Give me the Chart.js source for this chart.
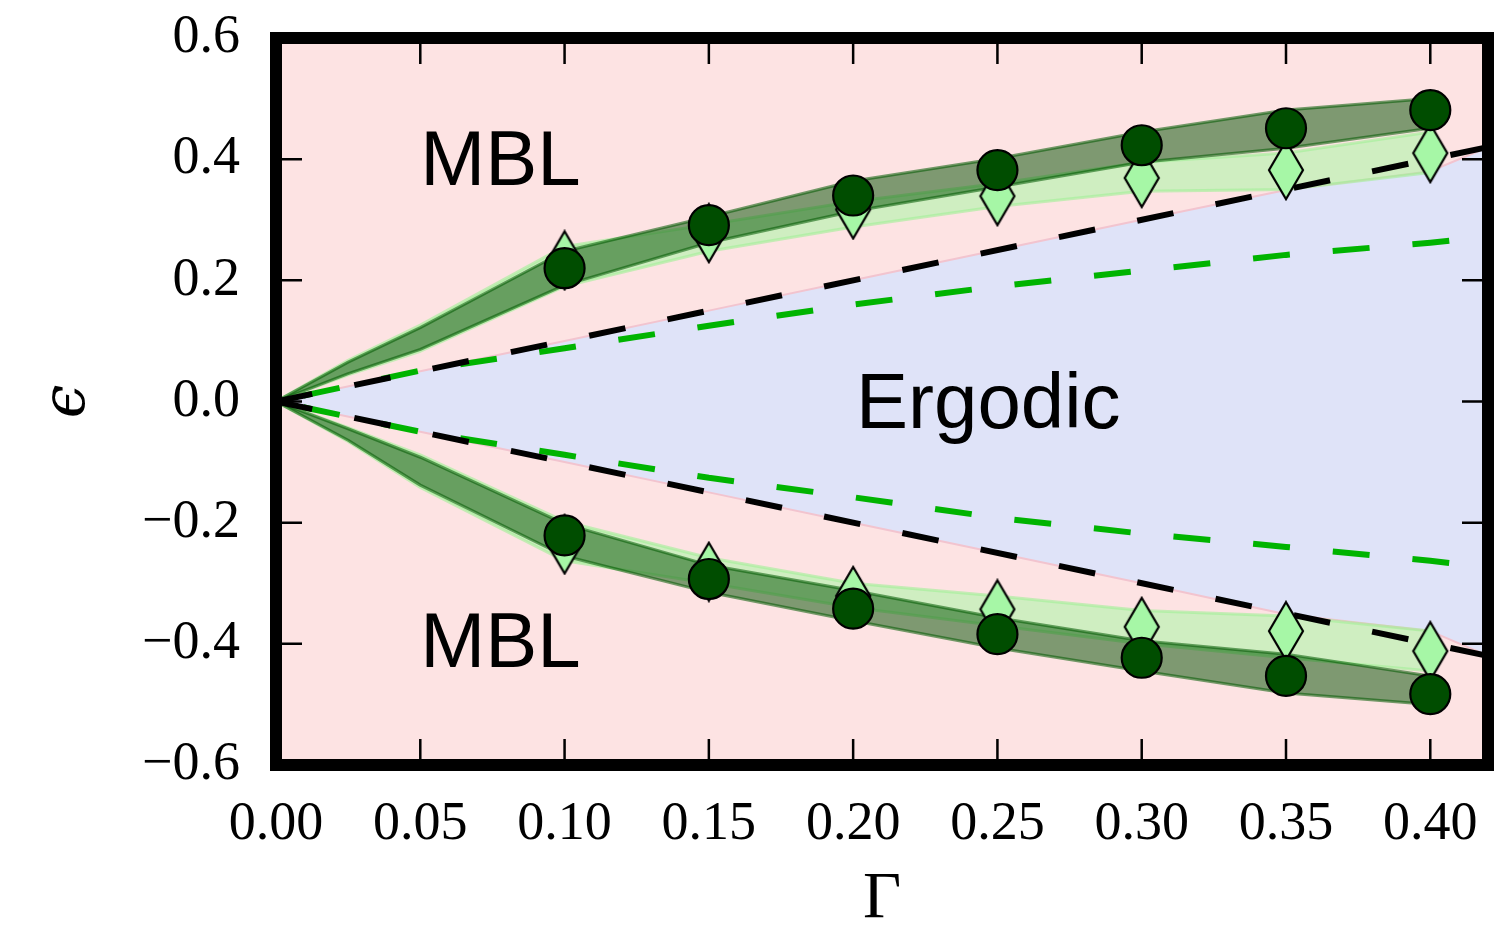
<!DOCTYPE html>
<html>
<head>
<meta charset="utf-8">
<script src="https://cdn.jsdelivr.net/npm/chart.js@4.4.1/dist/chart.umd.min.js"></script>
<style>
  html, body { margin: 0; padding: 0; background: #fff; }
  #wrap { width: 1512px; height: 928px; }
</style>
</head>
<body>
<div id="wrap"><canvas id="phase"></canvas></div>
<script>
// --- data ---
const gam = [0.10, 0.15, 0.20, 0.25, 0.30, 0.35, 0.40];
const circUp = [0.220, 0.291, 0.340, 0.382, 0.423, 0.451, 0.481];
const circDn = [-0.221, -0.293, -0.342, -0.384, -0.423, -0.453, -0.483];
const diaUp = [0.233, 0.278, 0.317, 0.339, 0.369, 0.382, 0.410];
const diaDn = [-0.236, -0.281, -0.321, -0.343, -0.372, -0.379, -0.412];

const bandGam = [0, 0.025, 0.05, 0.10, 0.15, 0.20, 0.25, 0.30, 0.35, 0.40];
const darkUpHi = [0, 0.065, 0.122, 0.248, 0.305, 0.364, 0.401, 0.445, 0.481, 0.500];
const darkUpLo = [0, 0.046, 0.086, 0.192, 0.262, 0.314, 0.354, 0.395, 0.418, 0.451];
const darkDnHi = [0, -0.045, -0.092, -0.202, -0.270, -0.312, -0.357, -0.395, -0.417, -0.453];
const darkDnLo = [0, -0.064, -0.138, -0.255, -0.315, -0.362, -0.407, -0.445, -0.481, -0.500];
const lightUpHi = [0, 0.068, 0.126, 0.256, 0.292, 0.330, 0.360, 0.395, 0.410, 0.445];
const lightUpLo = [0, 0.044, 0.083, 0.190, 0.248, 0.288, 0.322, 0.347, 0.350, 0.378];
const lightDnHi = [0, -0.043, -0.088, -0.198, -0.258, -0.300, -0.321, -0.345, -0.354, -0.379];
const lightDnLo = [0, -0.066, -0.142, -0.263, -0.300, -0.340, -0.370, -0.400, -0.423, -0.445];

const blueGam = [0, 0.05, 0.10, 0.15, 0.20, 0.25, 0.30, 0.35, 0.40, 0.42];
const blueUp = [0, 0.05, 0.10, 0.15, 0.20, 0.25, 0.30, 0.349, 0.380, 0.420];
const blueDn = [0, -0.05, -0.10, -0.15, -0.20, -0.25, -0.30, -0.351, -0.379, -0.420];

const greenGam = [0, 0.05, 0.10, 0.15, 0.20, 0.25, 0.30, 0.35, 0.40, 0.42];
const greenUp = [0, 0.051, 0.088, 0.125, 0.160, 0.190, 0.216, 0.242, 0.262, 0.272];
const greenDn = [0, -0.050, -0.088, -0.126, -0.158, -0.192, -0.218, -0.240, -0.263, -0.274];

const blackGam = [0, 0.42];
const blackUp = [0, 0.42];
const blackDn = [0, -0.42];

const xTicks = [0, 0.05, 0.10, 0.15, 0.20, 0.25, 0.30, 0.35, 0.40];
const xTickLabels = ['0.00', '0.05', '0.10', '0.15', '0.20', '0.25', '0.30', '0.35', '0.40'];
const yTicks = [-0.6, -0.4, -0.2, 0, 0.2, 0.4, 0.6];
const yTickLabels = ['\u22120.6', '\u22120.4', '\u22120.2', '0.0', '0.2', '0.4', '0.6'];

const regionLabels = [
  { text: 'MBL', x: 0.050, y: 0.357 },
  { text: 'MBL', x: 0.050, y: -0.438 },
  { text: 'Ergodic', x: 0.201, y: -0.044 }
];

const pts = (xs, ys) => xs.map((x, i) => ({ x: x, y: ys[i] }));

function diamondMarker() {
  const c = document.createElement('canvas');
  c.width = 38; c.height = 62;
  const g = c.getContext('2d');
  g.beginPath();
  g.moveTo(19, 2); g.lineTo(36, 31); g.lineTo(19, 60); g.lineTo(2, 31);
  g.closePath();
  g.fillStyle = '#a6f7a6';
  g.fill();
  g.lineWidth = 2.2;
  g.strokeStyle = '#000';
  g.stroke();
  return c;
}
const diamond = diamondMarker();

const lineBase = { pointRadius: 0, tension: 0, borderJoinStyle: 'round' };

function band(xs, lo, hi, line, fill, order) {
  return [
    Object.assign({ data: pts(xs, lo), borderColor: line, borderWidth: 3, fill: false, order: order }, lineBase),
    Object.assign({ data: pts(xs, hi), borderColor: line, borderWidth: 3, fill: '-1', backgroundColor: fill, order: order }, lineBase)
  ];
}

function dashed(xs, ys, color, offset, order) {
  return Object.assign({
    data: pts(xs, ys), borderColor: color, borderWidth: 6,
    borderDash: [37, 43], borderDashOffset: offset, borderCapStyle: 'butt',
    fill: false, order: order
  }, lineBase);
}

function markers(ys, style, fill, radius, order) {
  return {
    data: pts(gam, ys), showLine: false, pointStyle: style,
    pointRadius: radius, pointHoverRadius: radius,
    pointBackgroundColor: fill, pointBorderColor: '#000', pointBorderWidth: 2.2,
    order: order
  };
}

const datasets = [].concat(
  [
    Object.assign({ data: pts(blueGam, blueUp), borderColor: '#f2c4cf', borderWidth: 2, fill: false, order: 7 }, lineBase),
    Object.assign({ data: pts(blueGam, blueDn), borderColor: '#f2c4cf', borderWidth: 2, fill: '-1', backgroundColor: '#dfe3f8', order: 7 }, lineBase)
  ],
  band(bandGam, lightUpLo, lightUpHi, 'rgba(160,240,150,0.6)', 'rgba(150,250,150,0.45)', 6),
  band(bandGam, lightDnLo, lightDnHi, 'rgba(160,240,150,0.6)', 'rgba(150,250,150,0.45)', 6),
  band(bandGam, darkUpLo, darkUpHi, 'rgba(0,90,0,0.55)', 'rgba(0,80,0,0.5)', 5),
  band(bandGam, darkDnLo, darkDnHi, 'rgba(0,90,0,0.55)', 'rgba(0,80,0,0.5)', 5),
  [
    dashed(greenGam, greenUp, '#00b400', 52, 4),
    dashed(greenGam, greenDn, '#00b400', 52, 4),
    dashed(blackGam, blackUp, '#000', 0, 3),
    dashed(blackGam, blackDn, '#000', 0, 3),
    markers(diaUp, diamond, '#a6f7a6', 20, 2),
    markers(diaDn, diamond, '#a6f7a6', 20, 2),
    markers(circUp, 'circle', '#004d00', 20, 1),
    markers(circDn, 'circle', '#004d00', 20, 1)
  ]
);

const frame = {
  id: 'frame',
  beforeDatasetsDraw(chart) {
    const { ctx, chartArea: a } = chart;
    ctx.save();
    ctx.fillStyle = '#fde3e3';
    ctx.fillRect(a.left, a.top, a.right - a.left, a.bottom - a.top);
    ctx.restore();
  },
  afterDatasetsDraw(chart) {
    const { ctx, chartArea: a, scales: { x, y } } = chart;
    ctx.save();
    ctx.fillStyle = '#000';
    ctx.font = '78px "Liberation Sans", Arial, sans-serif';
    ctx.textAlign = 'left';
    ctx.textBaseline = 'alphabetic';
    regionLabels.forEach(l => ctx.fillText(l.text, x.getPixelForValue(l.x), y.getPixelForValue(l.y)));

    // inward ticks on all four sides
    ctx.strokeStyle = '#000';
    ctx.lineWidth = 2.5;
    ctx.beginPath();
    xTicks.forEach(v => {
      const px = x.getPixelForValue(v);
      ctx.moveTo(px, a.bottom); ctx.lineTo(px, a.bottom - 26);
      ctx.moveTo(px, a.top); ctx.lineTo(px, a.top + 26);
    });
    yTicks.forEach(v => {
      const py = y.getPixelForValue(v);
      ctx.moveTo(a.left, py); ctx.lineTo(a.left + 26, py);
      ctx.moveTo(a.right, py); ctx.lineTo(a.right - 26, py);
    });
    ctx.stroke();

    ctx.lineWidth = 12;
    ctx.strokeRect(a.left, a.top, a.right - a.left, a.bottom - a.top);
    ctx.restore();
  }
};

const tickFont = { family: '"Liberation Serif", "DejaVu Serif", serif', size: 54 };

new Chart(document.getElementById('phase'), {
  type: 'line',
  data: { datasets: datasets },
  options: {
    responsive: true,
    maintainAspectRatio: false,
    animation: false,
    layout: { padding: { top: 38, right: 24, left: 0, bottom: 0 } },
    plugins: { legend: { display: false }, tooltip: { enabled: false } },
    scales: {
      x: {
        type: 'linear', min: 0, max: 0.42,
        grid: { display: false }, border: { display: false },
        afterBuildTicks: s => { s.ticks = xTicks.map(v => ({ value: v })); },
        afterFit: s => { s.height = 163; s.paddingLeft = 0; s.paddingRight = 0; },
        ticks: { color: '#000', font: tickFont, padding: 19, maxRotation: 0, autoSkip: false,
                 callback: (v, i) => xTickLabels[i] },
        title: { display: true, text: '\u0393', color: '#000',
                 font: { family: '"Liberation Serif", "DejaVu Serif", serif', size: 66, lineHeight: 0.8 },
                 padding: { top: 0, bottom: 2 } }
      },
      y: {
        type: 'linear', min: -0.6, max: 0.6,
        grid: { display: false }, border: { display: false },
        afterBuildTicks: s => { s.ticks = yTicks.map(v => ({ value: v })); },
        afterFit: s => { s.width = 276; s.paddingTop = 0; s.paddingBottom = 0; },
        ticks: { color: '#000', font: tickFont, padding: 28, autoSkip: false,
                 callback: (v, i) => yTickLabels[i] },
        title: { display: true, text: '\u03f5', color: '#000',
                 font: { family: '"DejaVu Serif", "Liberation Serif", serif', size: 60, style: 'italic' },
                 padding: { top: 32, bottom: 0 } }
      }
    }
  },
  plugins: [frame]
});
</script>
</body>
</html>
